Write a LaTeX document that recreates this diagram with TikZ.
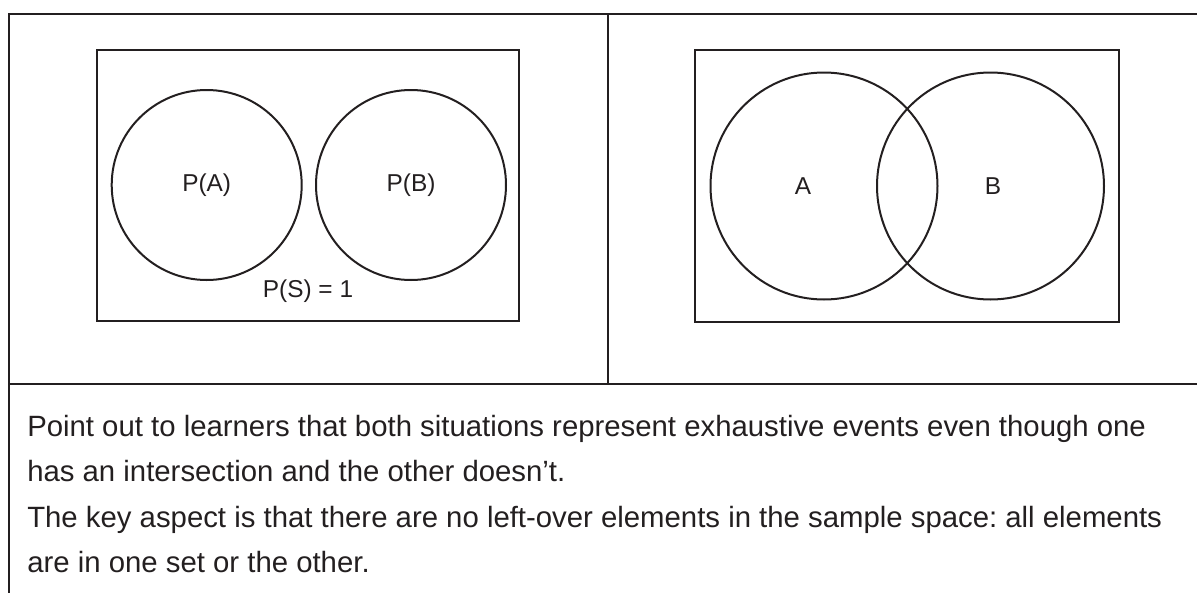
\documentclass[tikz,border=0pt]{standalone}
\usepackage{fontspec}
\setmainfont{Liberation Sans}
\definecolor{ink}{HTML}{231F20}
\frenchspacing
\begin{document}
\begin{tikzpicture}[x=0.75pt,y=-0.75pt,
  frame/.style={draw=ink,line width=1.8pt},
  setbox/.style={draw=ink,line width=1.7pt},
  setc/.style={circle,draw=ink,line width=1.5pt,inner sep=0pt,outer sep=0pt,text=ink,font=\fontsize{18.3}{22}\selectfont},
  lbl/.style={text=ink,inner sep=0pt,font=\fontsize{18.3}{22}\selectfont},
  body/.style={anchor=base west,text=ink,inner sep=0pt,font=\fontsize{22}{26}\selectfont}]
\useasboundingbox (0,0) rectangle (1197,593);
% frame
\coordinate (tl) at (9,14);
\coordinate (tr) at (1197,14);
\coordinate (bl) at (9,593);
\coordinate (ml) at (9,384);
\coordinate (mr) at (1197,384);
\coordinate (dt) at (608,14);
\coordinate (db) at (608,384);
\draw[frame] (tr) -- (tl) -- (bl);
\draw[frame] (ml) -- (mr);
\draw[frame] (dt) -- (db);
% left panel
\draw[setbox] (97,50) rectangle (519,321);
\node[setc,minimum size=142.5pt] (pa) at (206.7,185) {P(A)};
\node[setc,minimum size=142.5pt] (pb) at (411,185) {P(B)};
\node[lbl] (ps) at (308,291) {P(S) = 1};
% right panel
\draw[setbox] (695,50) rectangle (1119,322);
\node[setc,minimum size=170.25pt] (ca) at (824,186) {};
\node[setc,minimum size=170.25pt] (cb) at (990.5,186) {};
\node[lbl] (la) at (803,186) {A};
\node[lbl] (lb) at (993,186) {B};
% text
\node[body] (t1) at (27,436) {Point out to learners that both situations represent exhaustive events even though one};
\node[body] (t2) at (27,481) {has an intersection and the other doesn’t.};
\node[body] (t3) at (27,527) {The key aspect is that there are no left-over elements in the sample space: all elements};
\node[body] (t4) at (27,572) {are in one set or the other.};
\end{tikzpicture}
\end{document}
